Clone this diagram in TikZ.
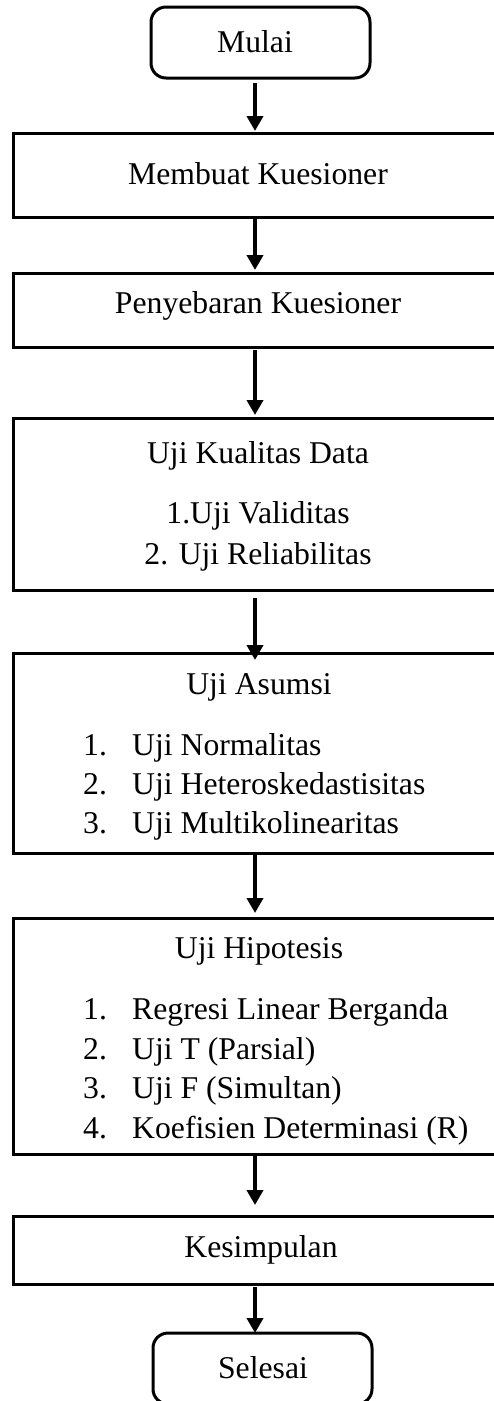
\documentclass[tikz,border=0pt]{standalone}
\usepackage{fontspec}
\setmainfont{Liberation Serif}
\usetikzlibrary{arrows.meta}
\begin{document}
\begin{tikzpicture}[x=1pt,y=-1pt,
 box/.style={draw,line width=3pt,minimum width=500pt,anchor=north west,inner sep=0pt,outer sep=0pt},
 term/.style={draw,line width=3pt,rounded corners=15pt,minimum width=219pt,minimum height=71pt,anchor=north west,inner sep=0pt,outer sep=0pt},
 txt/.style={inner sep=0pt,anchor=base,font=\fontsize{31.7}{38}\selectfont},
 txtl/.style={txt,anchor=base west},
 arr/.style={line width=4pt,-{Triangle[width=16pt,length=15pt]}}]
\useasboundingbox (0,0) rectangle (494,1401);
\clip (0,0) rectangle (494,1401);
\coordinate (ax) at (255,0);
% boxes
\node[term] (mulai) at (151,7) {};
\node[box,minimum height=84pt] (buat) at (13,133) {};
\node[box,minimum height=74pt] (sebar) at (13,273) {};
\node[box,minimum height=172pt] (kual) at (13,418) {};
\node[box,minimum height=200pt] (asumsi) at (13,653) {};
\node[box,minimum height=236pt] (hipo) at (13,918) {};
\node[box,minimum height=68pt] (simpul) at (13,1216) {};
\node[term] (selesai) at (153,1333) {};
% texts
\node[txt] (t1) at (255,52) {Mulai};
\node[txt] (t2) at (258,184) {Membuat Kuesioner};
\node[txt] (t3) at (258,313) {Penyebaran Kuesioner};
\node[txt] (t4) at (258,463) {Uji Kualitas Data};
\node[txt] (t4a) at (258,523) {1.Uji Validitas};
\node[txt] (t4b) at (258,564) {2. Uji Reliabilitas};
\node[txt] (t5) at (259,694) {Uji Asumsi};
\node[txtl] (n51) at (83,755) {1.};
\node[txtl] (i51) at (132,755) {Uji Normalitas};
\node[txtl] (n52) at (83,794) {2.};
\node[txtl] (i52) at (132,794) {Uji Heteroskedastisitas};
\node[txtl] (n53) at (83,833) {3.};
\node[txtl] (i53) at (132,833) {Uji Multikolinearitas};
\node[txt] (t6) at (259,958) {Uji Hipotesis};
\node[txtl] (n61) at (83,1019) {1.};
\node[txtl] (i61) at (132,1019) {Regresi Linear Berganda};
\node[txtl] (n62) at (83,1059) {2.};
\node[txtl] (i62) at (132,1059) {Uji T (Parsial)};
\node[txtl] (n63) at (83,1098) {3.};
\node[txtl] (i63) at (132,1098) {Uji F (Simultan)};
\node[txtl] (n64) at (83,1138) {4.};
\node[txtl] (i64) at (132,1138) {Koefisien Determinasi (R)};
\node[txt] (t7) at (261,1257) {Kesimpulan};
\node[txt] (t8) at (263,1378) {Selesai};
% arrows
\draw[arr,shorten <=5pt,shorten >=2pt] (mulai.south -| ax) -- (buat.north -| ax);
\draw[arr,shorten <=2pt,shorten >=3pt] (buat.south -| ax) -- (sebar.north -| ax);
\draw[arr,shorten <=3pt,shorten >=3pt] (sebar.south -| ax) -- (kual.north -| ax);
\draw[arr,shorten <=8pt,shorten >=-7pt] (kual.south -| ax) -- (asumsi.north -| ax);
\draw[arr,shorten <=1pt,shorten >=5pt] (asumsi.south -| ax) -- (hipo.north -| ax);
\draw[arr,shorten <=1pt,shorten >=11pt] (hipo.south -| ax) -- (simpul.north -| ax);
\draw[arr,shorten <=3pt,shorten >=0pt] (simpul.south -| ax) -- (selesai.north -| ax);
\end{tikzpicture}
\end{document}
